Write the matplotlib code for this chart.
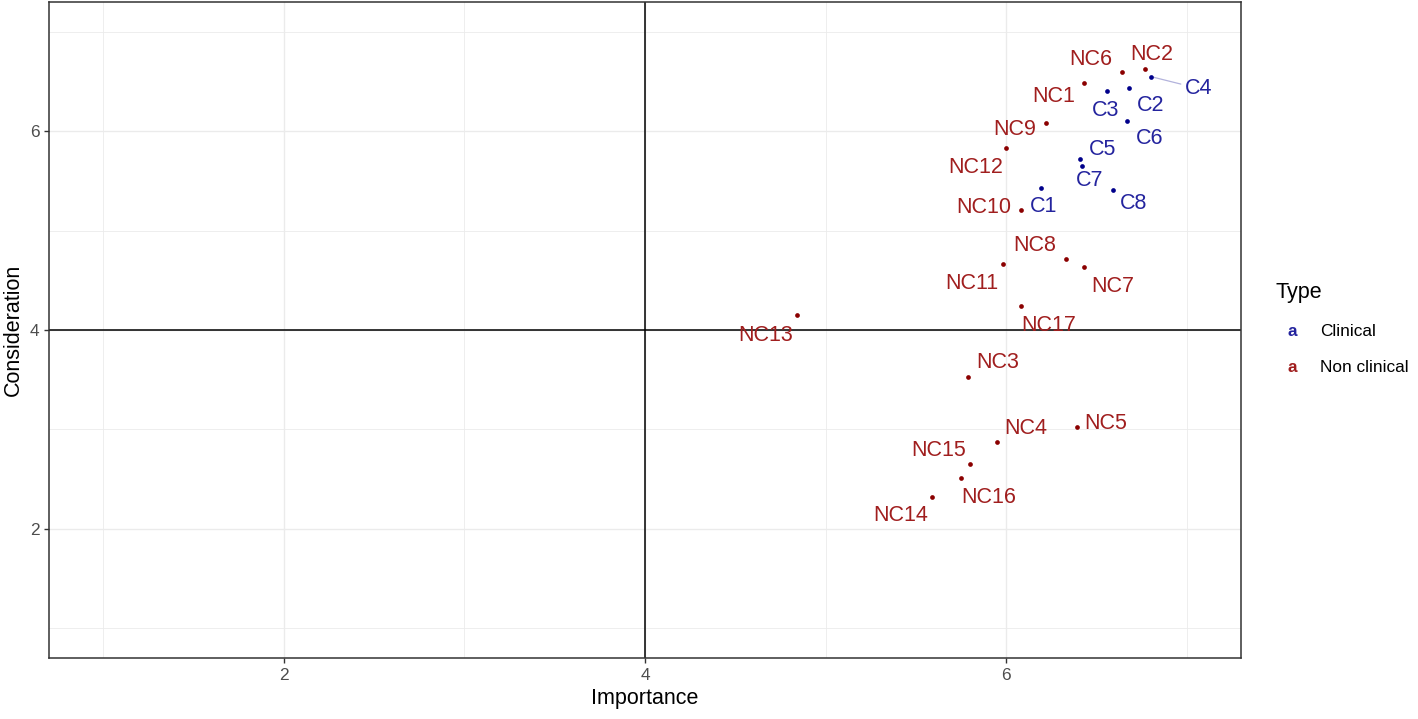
import matplotlib
matplotlib.use("Agg")
import matplotlib.pyplot as plt
from matplotlib.ticker import MultipleLocator

plt.rcParams['font.family'] = ['Liberation Sans', 'DejaVu Sans']

# datos
nombres = ["C1", "C2", "C3", "C4", "C5", "C6", "C7", "C8",
           "NC1", "NC2", "NC3", "NC4", "NC5", "NC6", "NC7", "NC8", "NC9",
           "NC10", "NC11", "NC12", "NC13", "NC14", "NC15", "NC16", "NC17"]
importancia = [6.19, 6.68, 6.56, 6.80, 6.41, 6.67, 6.42, 6.59,
               6.43, 6.77, 5.79, 5.95, 6.39, 6.64, 6.43, 6.33, 6.22,
               6.08, 5.98, 6.00, 4.84, 5.59, 5.80, 5.75, 6.08]
consideracion = [5.43, 6.43, 6.40, 6.55, 5.72, 6.10, 5.65, 5.41,
                 6.49, 6.63, 3.53, 2.87, 3.02, 6.60, 4.63, 4.71, 6.08,
                 5.21, 4.66, 5.83, 4.15, 2.32, 2.65, 2.51, 4.24]
tipo = ["Clinical"] * 8 + ["Non clinical"] * 17

colores = {"Clinical": "#00008B", "Non clinical": "#8B0000"}
colores_texto = {"Clinical": "#24249E", "Non clinical": "#A01E1E"}

# desplazamiento de cada etiqueta (pixeles), imitando ggrepel
desplaz = {
    "C1": (3, -19), "C2": (22, -17), "C3": (-2, -19), "C4": (48, -12),
    "C5": (22, 10), "C6": (22, -17), "C7": (8, -15), "C8": (21, -14),
    "NC1": (-30, -14), "NC2": (6, 14), "NC3": (29, 14), "NC4": (29, 14),
    "NC5": (29, 4), "NC6": (-31, 12), "NC7": (29, -19), "NC8": (-31, 14),
    "NC9": (-31, -6), "NC10": (-37, 2), "NC11": (-31, -19), "NC12": (-31, -19),
    "NC13": (-31, -20), "NC14": (-31, -19), "NC15": (-31, 14), "NC16": (28, -19),
    "NC17": (28, -19),
}

fig = plt.figure(figsize=(14.18, 7.19), dpi=100)
ax = fig.add_axes([49 / 1418, 61 / 719, (1241 - 49) / 1418, (658 - 2) / 719])

ax.set_xlim(0.7, 7.3)
ax.set_ylim(0.7, 7.3)
ax.xaxis.set_major_locator(MultipleLocator(2))
ax.yaxis.set_major_locator(MultipleLocator(2))
ax.xaxis.set_minor_locator(MultipleLocator(1))
ax.yaxis.set_minor_locator(MultipleLocator(1))
ax.grid(which='major', color='#EBEBEB', linewidth=1.0)
ax.grid(which='minor', color='#EBEBEB', linewidth=0.6)
ax.set_axisbelow(True)
ax.tick_params(which='minor', length=0)
ax.tick_params(which='major', length=3.5, width=1.0, color='#333333',
               labelcolor='#4D4D4D', labelsize=12.4)
for s in ax.spines.values():
    s.set_color('#333333')
    s.set_linewidth(1.1)

ax.axhline(4, color='black', linewidth=1.1, zorder=1.5)
ax.axvline(4, color='black', linewidth=1.1, zorder=1.5)

for n, x, y, t in zip(nombres, importancia, consideracion, tipo):
    c = colores[t]
    ax.plot(x, y, 'o', color=c, markersize=3.4, markeredgewidth=0, zorder=3)
    dx, dy = desplaz[n]
    props = None
    if n == "C4":
        props = dict(arrowstyle='-', color=c, alpha=0.3, linewidth=0.9,
                     shrinkA=1, shrinkB=2)
    ax.annotate(n, (x, y), xytext=(dx, dy), textcoords='offset pixels',
                ha='center', va='center', color=colores_texto[t], fontsize=15.5,
                arrowprops=props, zorder=4)

ax.set_xlabel("Importance", fontsize=15.5, color='black', labelpad=4)
ax.set_ylabel("Consideration", fontsize=15.5, color='black', labelpad=4)

# leyenda manual estilo ggplot
fig.text(1275 / 1418, 1 - 292 / 719, "Type", fontsize=15.5, va='center', ha='left')
for i, t in enumerate(["Clinical", "Non clinical"]):
    yy = 1 - (332 + 35 * i) / 719
    fig.text(1292 / 1418, yy, "a", fontsize=12.4, color=colores_texto[t],
             va='center', ha='center', fontweight='bold')
    fig.text(1320 / 1418, yy, t, fontsize=12.4, va='center', ha='left')

plt.savefig("out.png", dpi=100)
